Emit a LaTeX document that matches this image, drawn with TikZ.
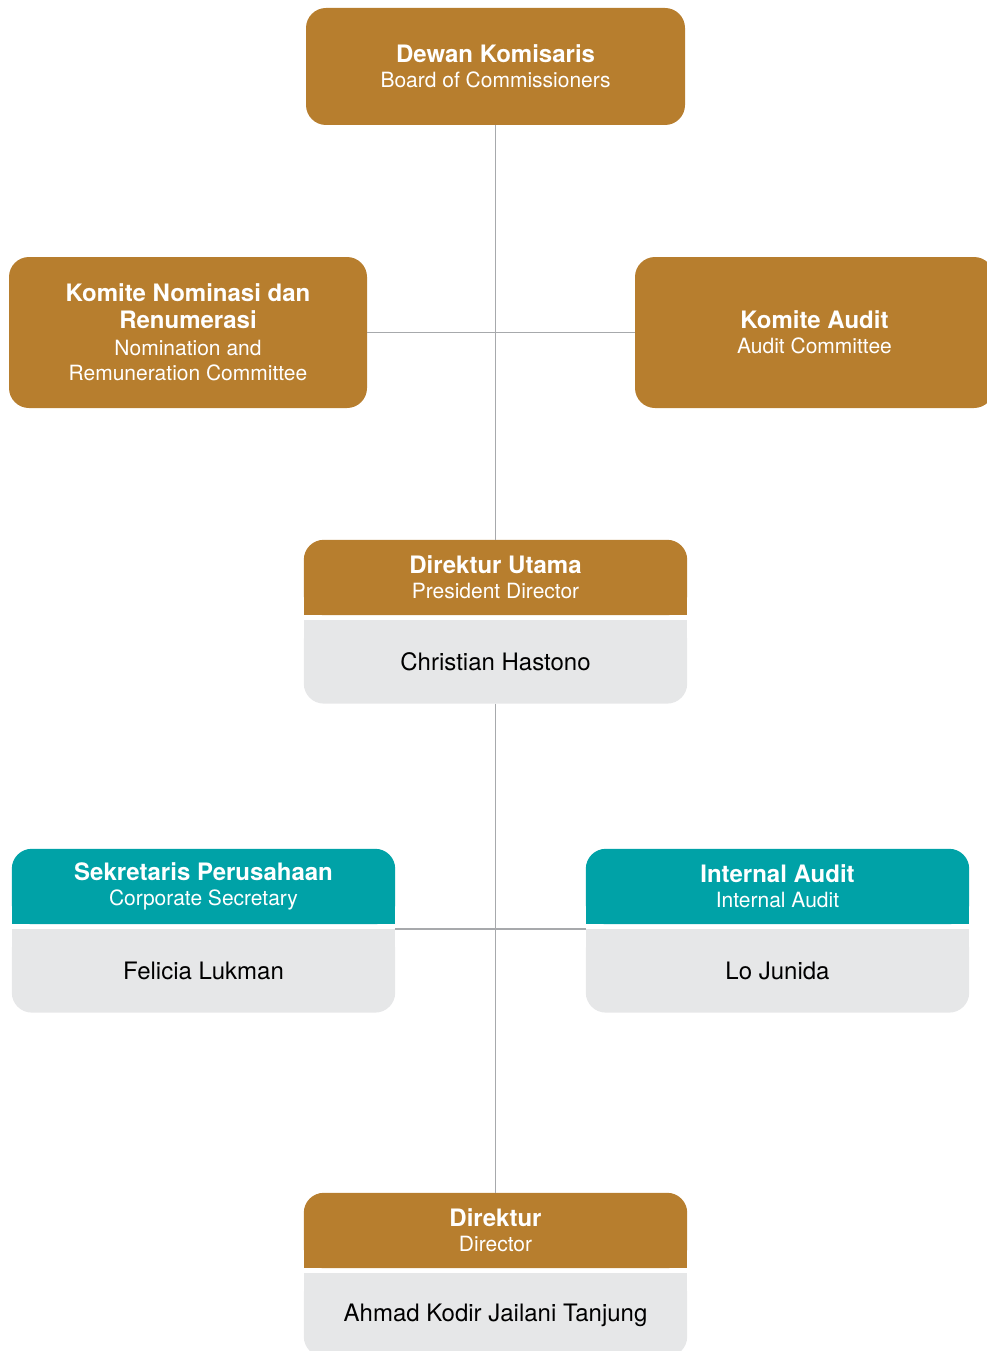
\documentclass[tikz,border=0pt]{standalone}
\usepackage{fontspec}
\setmainfont{TeX Gyre Heros}
\usetikzlibrary{positioning}
\usetikzlibrary{backgrounds}
\definecolor{gold}{HTML}{B77E2E}
\definecolor{tosca}{HTML}{00A2A7}
\definecolor{cardgray}{HTML}{E6E7E8}
\definecolor{linegray}{HTML}{A7A9AC}
\newcommand{\ttl}[1]{{\fontsize{24}{25}\selectfont\bfseries #1}}
\newcommand{\paintcard}[3]{%
\begin{scope}[on background layer]
\fill[#3,rounded corners=20pt] (#1.south west) rectangle (#1.north east);
\fill[#3] (#1.west) rectangle (#1.south east);
\fill[cardgray,rounded corners=20pt] (#2.south west) rectangle (#2.north east);
\fill[cardgray] (#2.north west) rectangle (#2.east);
\end{scope}}
\tikzset{
unit/.style={fill=gold,rounded corners=20pt,text=white,align=center,inner sep=0pt,font=\fontsize{21}{25}\selectfont},
head/.style={text=white,align=center,inner sep=0pt,minimum width=383pt,minimum height=75pt,font=\fontsize{21}{25}\selectfont},
person/.style={text=black,inner sep=0pt,minimum width=383pt,minimum height=83pt,font=\fontsize{24}{28}\selectfont},
link/.style={draw=linegray,line width=1.5pt}
}

\begin{document}
\begin{tikzpicture}[x=1pt,y=-1pt]
\useasboundingbox (0,0) rectangle (986,1351);
\node[unit,minimum width=379pt,minimum height=117pt] (dk) at (495.5,66.5) {\ttl{Dewan Komisaris}\\Board of Commissioners};
\node[unit,minimum width=358pt,minimum height=151pt] (knr) at (188,332.5) {\ttl{Komite Nominasi dan}\\[2pt]\ttl{Renumerasi}\\[2pt]Nomination and\\Remuneration Committee};
\node[unit,minimum width=359pt,minimum height=151pt] (ka) at (814.5,332.5) {\ttl{Komite Audit}\\Audit Committee};
\node[head] (pdh) at (495.5,577.5) {\ttl{Direktur Utama}\\President Director};
\node[person,below=5pt of pdh] (pd) {Christian Hastono};
\paintcard{pdh}{pd}{gold}
\node[head] (sph) at (203.5,886.5) {\ttl{Sekretaris Perusahaan}\\Corporate Secretary};
\node[person,below=5pt of sph] (sp) {Felicia Lukman};
\paintcard{sph}{sp}{tosca}
\node[head] (iah) at (777.5,886.5) {\ttl{Internal Audit}\\Internal Audit};
\node[person,below=5pt of iah] (ia) {Lo Junida};
\paintcard{iah}{ia}{tosca}
\node[head] (dh) at (495.5,1230.5) {\ttl{Direktur}\\Director};
\node[person,below=5pt of dh] (d) {Ahmad Kodir Jailani Tanjung};
\paintcard{dh}{d}{gold}
\draw[link] (dk.south) -- (pdh.north);
\draw[link] (knr.east) -- (ka.west);
\draw[link] (pd.south) -- (dh.north);
\draw[link] (sp.north east) -- (ia.north west);
\end{tikzpicture}
\end{document}
